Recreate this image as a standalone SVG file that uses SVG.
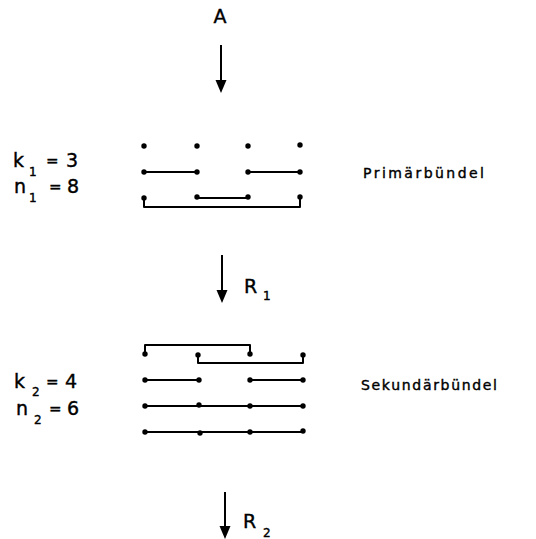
<svg xmlns="http://www.w3.org/2000/svg" width="536" height="539" viewBox="0 0 536 539">
  <defs>
    <style>
      .lbl { font-family: "DejaVu Sans", "Liberation Sans", sans-serif; fill: #000; stroke: #000; stroke-width: 0.4; }
      .big { font-size: 19px; }
      .eq { font-size: 15px; }
      .sub { font-size: 12px; }
      .name { font-size: 14px; }
      .ln { stroke: #000; stroke-width: 2; fill: none; stroke-linejoin: round; }
      .dot { fill: #000; }
    </style>
  </defs>
  <rect width="536" height="539" fill="#fff"/>

  <!-- input label -->
  <g id="input">
    <text class="lbl big" x="220" y="23" text-anchor="middle">A</text>
  </g>

  <!-- flow arrows -->
  <g id="connectors">
    <line class="ln" x1="221" y1="45" x2="221" y2="82"/>
    <path d="M215.5,80 L226.5,80 L221,93 Z" fill="#000"/>
    <line class="ln" x1="222" y1="255" x2="222" y2="292"/>
    <path d="M216.5,290 L227.5,290 L222,303 Z" fill="#000"/>
    <line class="ln" x1="225" y1="492" x2="225" y2="528"/>
    <path d="M219.5,526 L230.5,526 L225,539 Z" fill="#000"/>
  </g>

  <!-- primary bundle -->
  <g id="primary">
    <text class="lbl big" x="13" y="167">k</text>
    <text class="lbl sub" x="29" y="176">1</text>
    <text class="lbl eq" x="46" y="166">=</text>
    <text class="lbl big" x="66" y="167">3</text>
    <text class="lbl big" x="14" y="193">n</text>
    <text class="lbl sub" x="29" y="202">1</text>
    <text class="lbl eq" x="49" y="192">=</text>
    <text class="lbl big" x="67" y="193">8</text>

    <line class="ln" x1="144" y1="172" x2="197" y2="172"/>
    <line class="ln" x1="248" y1="172" x2="300" y2="172"/>
    <line class="ln" x1="197" y1="198" x2="248" y2="198"/>
    <path class="ln" d="M144,198 V207 H300 V198"/>

    <circle class="dot" cx="144" cy="146" r="2.7"/>
    <circle class="dot" cx="197" cy="146" r="2.7"/>
    <circle class="dot" cx="248" cy="146" r="2.7"/>
    <circle class="dot" cx="300" cy="145" r="2.7"/>
    <circle class="dot" cx="144" cy="172" r="2.7"/>
    <circle class="dot" cx="197" cy="172" r="2.7"/>
    <circle class="dot" cx="248" cy="172" r="2.7"/>
    <circle class="dot" cx="300" cy="172" r="2.7"/>
    <circle class="dot" cx="144" cy="198" r="2.7"/>
    <circle class="dot" cx="197" cy="197" r="2.7"/>
    <circle class="dot" cx="248" cy="197" r="2.7"/>
    <circle class="dot" cx="300" cy="197" r="2.7"/>

    <text class="lbl name" x="363" y="178" textLength="121" lengthAdjust="spacing">Primärbündel</text>
  </g>

  <!-- relay R1 label -->
  <g id="r1">
    <text class="lbl big" x="244" y="293">R</text>
    <text class="lbl sub" x="263" y="300">1</text>
  </g>

  <!-- secondary bundle -->
  <g id="secondary">
    <text class="lbl big" x="14" y="388">k</text>
    <text class="lbl sub" x="32" y="396">2</text>
    <text class="lbl eq" x="46" y="387">=</text>
    <text class="lbl big" x="65" y="388">4</text>
    <text class="lbl big" x="16" y="415">n</text>
    <text class="lbl sub" x="34" y="424">2</text>
    <text class="lbl eq" x="49" y="414">=</text>
    <text class="lbl big" x="67" y="415">6</text>

    <path class="ln" d="M145,354 V345 H250 V354"/>
    <path class="ln" d="M198,355 V363 H303 V355"/>
    <line class="ln" x1="145" y1="380" x2="199" y2="380"/>
    <line class="ln" x1="250" y1="380" x2="303" y2="380"/>
    <line class="ln" x1="145" y1="406" x2="303" y2="406"/>
    <line class="ln" x1="145" y1="432" x2="303" y2="432"/>

    <circle class="dot" cx="145" cy="354" r="2.7"/>
    <circle class="dot" cx="250" cy="354" r="2.7"/>
    <circle class="dot" cx="198" cy="355" r="2.7"/>
    <circle class="dot" cx="303" cy="355" r="2.7"/>
    <circle class="dot" cx="145" cy="380" r="2.7"/>
    <circle class="dot" cx="199" cy="380" r="2.7"/>
    <circle class="dot" cx="250" cy="380" r="2.7"/>
    <circle class="dot" cx="303" cy="380" r="2.7"/>
    <circle class="dot" cx="145" cy="406" r="2.7"/>
    <circle class="dot" cx="199" cy="405" r="2.7"/>
    <circle class="dot" cx="250" cy="406" r="2.7"/>
    <circle class="dot" cx="303" cy="406" r="2.7"/>
    <circle class="dot" cx="145" cy="432" r="2.7"/>
    <circle class="dot" cx="200" cy="433" r="2.7"/>
    <circle class="dot" cx="250" cy="432" r="2.7"/>
    <circle class="dot" cx="303" cy="431" r="2.7"/>

    <text class="lbl name" x="361" y="390" textLength="136" lengthAdjust="spacing">Sekundärbündel</text>
  </g>

  <!-- relay R2 label -->
  <g id="r2">
    <text class="lbl big" x="243" y="528">R</text>
    <text class="lbl sub" x="263" y="537">2</text>
  </g>
</svg>
